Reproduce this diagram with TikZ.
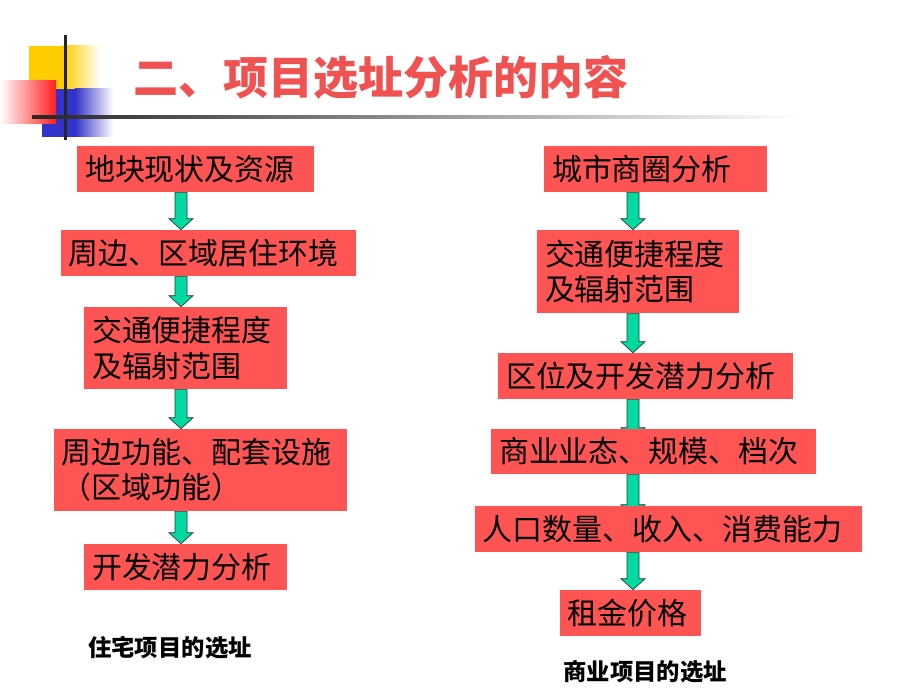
\documentclass[tikz,border=0pt]{standalone}
\usepackage{fontspec}
\setmainfont{Liberation Serif}
\newfontfamily\cjk{Noto Sans CJK SC}
\usetikzlibrary{calc, backgrounds}
\definecolor{boxred}{RGB}{255,84,84}
\definecolor{arrowgreen}{RGB}{0,218,160}
\definecolor{titlered}{RGB}{240,82,82}
\definecolor{decoyellow}{RGB}{255,204,0}
\definecolor{decoblue}{RGB}{51,51,204}
\definecolor{decored}{RGB}{255,30,30}
\tikzset{
    stepbox/.style={
        rectangle, fill=boxred, inner xsep=0.2cm, inner ysep=0pt,
        align=left, text=black, font=\cjk\fontsize{21.3}{25}\selectfont
    },
    greenarrow/.style={fill=arrowgreen, draw=black!80, line width=0.5pt},
    caption/.style={font=\cjk\bfseries\fontsize{16.6}{20}\selectfont},
    title/.style={text=titlered, font=\cjk\bfseries\fontsize{32}{36}\selectfont}
}
% block arrow from one box down to the next, along a column
\newcommand{\flowarrow}[4][0]{%
  \path (#3.south -| #2) coordinate (fa-s)
        ($(#4.north -| #2)+(0,-#1)$) coordinate (fa-t);
  \filldraw[greenarrow] ($(fa-s)+(-0.15,0)$) -- ($(fa-t)+(-0.15,0.275)$)
     -- ++(-0.15,0) -- (fa-t) -- ++(0.3,0.275) -- ++(-0.15,0)
     -- ($(fa-s)+(0.15,0)$) -- cycle;
}

\begin{document}
\begin{tikzpicture}

\useasboundingbox (0,0) rectangle (23,17.25);

% Corner decoration
\fill[decoyellow] (0.725,15.025) rectangle (1.575,16.1);
\shade[left color=decoyellow, right color=white] (1.575,15.025) rectangle (2.5,16.1);
\fill[decoblue] (1.05,13.825) rectangle (1.875,15.025);
\shade[left color=decoblue, right color=white] (1.875,13.825) rectangle (2.825,15.025);
\shade[left color=white, right color=decored] (0,14.15) rectangle (1.4,15.225);
\fill[black!85] (1.5875,13.75) rectangle (1.6625,16.375);
\shade[left color=black!85, right color=white] (0.8,14.29) rectangle (20,14.36);

% Title
\node[title] (title) at (9.525,15.325) {二、项目选址分析的内容};

% Column axes
\coordinate (colL) at (4.525,0);
\coordinate (colR) at (15.825,0);

% Residential (left)
\node[stepbox, text width=5.525cm, minimum height=1.15cm] (l1) at (4.89,13.025) {地块现状及资源};
\node[stepbox, text width=6.975cm, minimum height=1.15cm] (l2) at (5.21,10.925) {周边、区域居住环境};
\node[stepbox, text width=4.675cm, minimum height=2.05cm] (l3) at (4.64,8.55) {交通便捷程度\\及辐射范围};
\node[stepbox, text width=6.925cm, minimum height=2.05cm] (l4) at (5.01,5.5) {周边功能、配套设施\\（区域功能）};
\node[stepbox, text width=4.675cm, minimum height=1.15cm] (l5) at (4.64,3.075) {开发潜力分析};
\node[caption] (reslabel) at (4.25,1.05) {住宅项目的选址};

% Commercial (right)
\node[stepbox, text width=5.175cm, minimum height=1.15cm] (r1) at (16.39,13.025) {城市商圈分析};
\node[stepbox, text width=4.65cm, minimum height=2.075cm] (r2) at (15.95,10.4625) {交通便捷程度\\及辐射范围};
\node[stepbox, text width=6.975cm, minimum height=1.15cm] (r3) at (16.14,7.85) {区位及开发潜力分析};
\node[stepbox, text width=7.725cm, minimum height=1.125cm] (r4) at (16.34,5.9625) {商业业态、规模、档次};
\node[stepbox, text width=9.275cm, minimum height=1.15cm] (r5) at (16.71,4.025) {人口数量、收入、消费能力};
\node[stepbox, text width=3.125cm, minimum height=1.15cm] (r6) at (15.76,1.925) {租金价格};
\node[caption] (comlabel) at (16.125,0.45) {商业项目的选址};

% Arrows (behind the boxes)
\begin{scope}[on background layer]
\flowarrow{colL}{l1}{l2}
\flowarrow{colL}{l2}{l3}
\flowarrow{colL}{l3}{l4}
\flowarrow{colL}{l4}{l5}
\flowarrow{colR}{r1}{r2}
\flowarrow{colR}{r2}{r3}
\flowarrow[0.25]{colR}{r3}{r4}
\flowarrow[0.25]{colR}{r4}{r5}
\flowarrow{colR}{r5}{r6}
\end{scope}

\end{tikzpicture}
\end{document}
